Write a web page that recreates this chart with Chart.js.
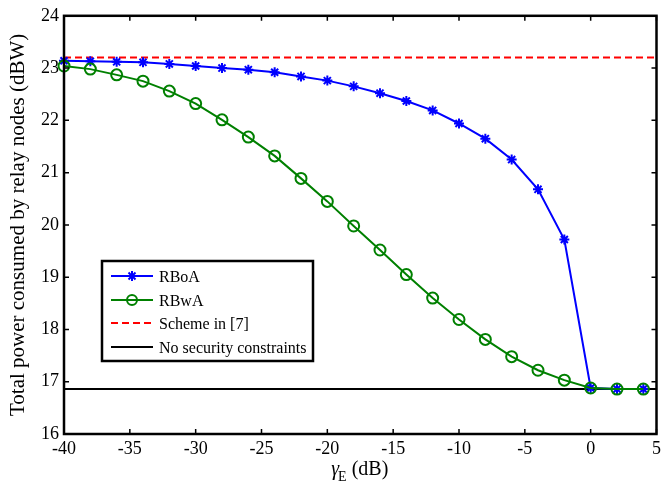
<!DOCTYPE html>
<html>
<head>
<meta charset="utf-8">
<script src="https://cdn.jsdelivr.net/npm/chart.js@4.4.1/dist/chart.umd.min.js"></script>
<style>
html,body{margin:0;padding:0;background:#fff;}
#wrap{width:665px;height:489px;position:relative;}
</style>
</head>
<body>
<div id="wrap"><canvas id="c" width="665" height="489"></canvas></div>
<script>
const gammaE = [-40,-38,-36,-34,-32,-30,-28,-26,-24,-22,-20,-18,-16,-14,-12,-10,-8,-6,-4,-2,0,2,4];
const rboa = [23.14,23.13,23.12,23.11,23.08,23.04,23.00,22.97,22.92,22.84,22.76,22.65,22.52,22.37,22.19,21.94,21.65,21.25,20.68,19.72,16.88,16.86,16.86];
const rbwa = [23.04,22.98,22.87,22.75,22.56,22.32,22.01,21.68,21.32,20.89,20.45,19.98,19.52,19.05,18.60,18.19,17.81,17.48,17.22,17.03,16.88,16.86,16.86];
const schemeLevel = 23.2;
const noSecLevel = 16.86;
const xRange = [-40, 5];
const yRange = [16, 24];
const xTicks = [-40,-35,-30,-25,-20,-15,-10,-5,0,5];
const yTicks = [16,17,18,19,20,21,22,23,24];
const labels = ['RBoA','RBwA','Scheme in [7]','No security constraints'];

const FONT = "'Liberation Serif', 'Times New Roman', serif";
const pts = (xs, ys) => xs.map((x,i)=>({x:x,y:ys[i]}));

function drawStar(ctx, x, y, r){
  ctx.beginPath();
  ctx.moveTo(x-r,y);ctx.lineTo(x+r,y);
  ctx.moveTo(x,y-r);ctx.lineTo(x,y+r);
  const d=r*0.7;
  ctx.moveTo(x-d,y-d);ctx.lineTo(x+d,y+d);
  ctx.moveTo(x+d,y-d);ctx.lineTo(x-d,y+d);
  ctx.stroke();
}

const framePlugin = {
  id:'frame',
  afterDraw(chart){
    const {ctx, chartArea:a, scales} = chart;
    const xs = scales.x, ys = scales.y;
    ctx.save();
    ctx.strokeStyle='#000';
    ctx.lineWidth=2.5;
    ctx.strokeRect(a.left, a.top, a.right-a.left, a.bottom-a.top);
    ctx.lineWidth=1.5;
    const tl=5;
    ctx.beginPath();
    xTicks.forEach(v=>{
      const p = xs.getPixelForValue(v);
      ctx.moveTo(p, a.bottom); ctx.lineTo(p, a.bottom-tl);
      ctx.moveTo(p, a.top); ctx.lineTo(p, a.top+tl);
    });
    yTicks.forEach(v=>{
      const p = ys.getPixelForValue(v);
      ctx.moveTo(a.left, p); ctx.lineTo(a.left+tl, p);
      ctx.moveTo(a.right, p); ctx.lineTo(a.right-tl, p);
    });
    ctx.stroke();

    // x axis title: gamma_E (dB)
    const cx = (a.left+a.right)/2, ty = 475;
    ctx.fillStyle='#000';
    ctx.textBaseline='alphabetic';
    ctx.font = "italic 20px "+FONT;
    const g='γ', sub='E', rest=' (dB)';
    const wg = ctx.measureText(g).width;
    ctx.font = "14px "+FONT;
    const ws = ctx.measureText(sub).width;
    ctx.font = "20px "+FONT;
    const wr = ctx.measureText(rest).width;
    let x0 = cx - (wg+ws+wr)/2;
    ctx.font = "italic 20px "+FONT; ctx.textAlign='left';
    ctx.fillText(g, x0, ty);
    ctx.font = "14px "+FONT;
    ctx.fillText(sub, x0+wg-1, ty+6);
    ctx.font = "20px "+FONT;
    ctx.fillText(rest, x0+wg+ws-1, ty);

    // legend
    const L=102, T=261, R=313, B=361;
    ctx.fillStyle='#fff';
    ctx.fillRect(L,T,R-L,B-T);
    ctx.strokeStyle='#000'; ctx.lineWidth=2.5;
    ctx.strokeRect(L,T,R-L,B-T);
    const rowsY=[276,300,323,347];
    const ds = chart.data.datasets;
    rowsY.forEach((y,i)=>{
      const d = ds[i];
      ctx.save();
      ctx.strokeStyle=d.borderColor; ctx.lineWidth=d.borderWidth;
      ctx.setLineDash(d.borderDash||[]);
      ctx.beginPath(); ctx.moveTo(111,y); ctx.lineTo(153,y); ctx.stroke();
      ctx.setLineDash([]);
      if (d.pointRadius>0){
        ctx.lineWidth=d.pointBorderWidth; ctx.strokeStyle=d.borderColor;
        if (d.pointStyle==='circle'){ctx.beginPath();ctx.arc(132,y,d.pointRadius-0.5,0,Math.PI*2);ctx.stroke();}
        else {drawStar(ctx,132,y,d.pointRadius);}
      }
      ctx.restore();
      ctx.fillStyle='#000'; ctx.font="16px "+FONT; ctx.textAlign='left'; ctx.textBaseline='middle';
      ctx.fillText(labels[i], 159, y+1.5);
    });
    ctx.restore();
  }
};

new Chart(document.getElementById('c'), {
  type:'line',
  data:{
    datasets:[
      {label:labels[0], data:pts(gammaE, rboa), borderColor:'#0000ff', backgroundColor:'#0000ff', borderWidth:2,
       pointStyle:'star', pointRadius:5, pointBorderWidth:2, pointBorderColor:'#0000ff', clip:false, order:2},
      {label:labels[1], data:pts(gammaE, rbwa), borderColor:'#008000', backgroundColor:'rgba(0,0,0,0)', borderWidth:2,
       pointStyle:'circle', pointRadius:5.5, pointBorderWidth:2, pointBorderColor:'#008000', pointBackgroundColor:'rgba(0,0,0,0)', clip:false, order:1},
      {label:labels[2], data:[{x:xRange[0],y:schemeLevel},{x:xRange[1],y:schemeLevel}], borderColor:'#ff0000', borderWidth:2,
       borderDash:[7,4], pointRadius:0, order:3},
      {label:labels[3], data:[{x:xRange[0],y:noSecLevel},{x:xRange[1],y:noSecLevel}], borderColor:'#000000', borderWidth:2,
       pointRadius:0, order:4}
    ]
  },
  options:{
    responsive:false, animation:false, devicePixelRatio:1,
    layout:{padding:{top:12,right:4,left:0,bottom:0}},
    plugins:{legend:{display:false}, tooltip:{enabled:false}},
    elements:{line:{tension:0}},
    scales:{
      x:{type:'linear', min:xRange[0], max:xRange[1],
         afterBuildTicks(s){s.ticks = xTicks.map(v=>({value:v}));},
         ticks:{color:'#000', font:{family:FONT,size:18}, padding:4, maxRotation:0, autoSkip:false},
         grid:{display:false, drawTicks:false}, border:{display:false},
         afterFit(s){s.height=55;}},
      y:{type:'linear', min:yRange[0], max:yRange[1],
         afterBuildTicks(s){s.ticks = yTicks.map(v=>({value:v}));},
         ticks:{color:'#000', font:{family:FONT,size:18}, padding:5, autoSkip:false},
         grid:{display:false, drawTicks:false}, border:{display:false},
         title:{display:true, text:'Total power consumed by relay nodes (dBW)', color:'#000', font:{family:FONT,size:21}, padding:{top:6,bottom:0}},
         afterFit(s){s.width=64;}}
    }
  },
  plugins:[framePlugin]
});
</script>
</body>
</html>
